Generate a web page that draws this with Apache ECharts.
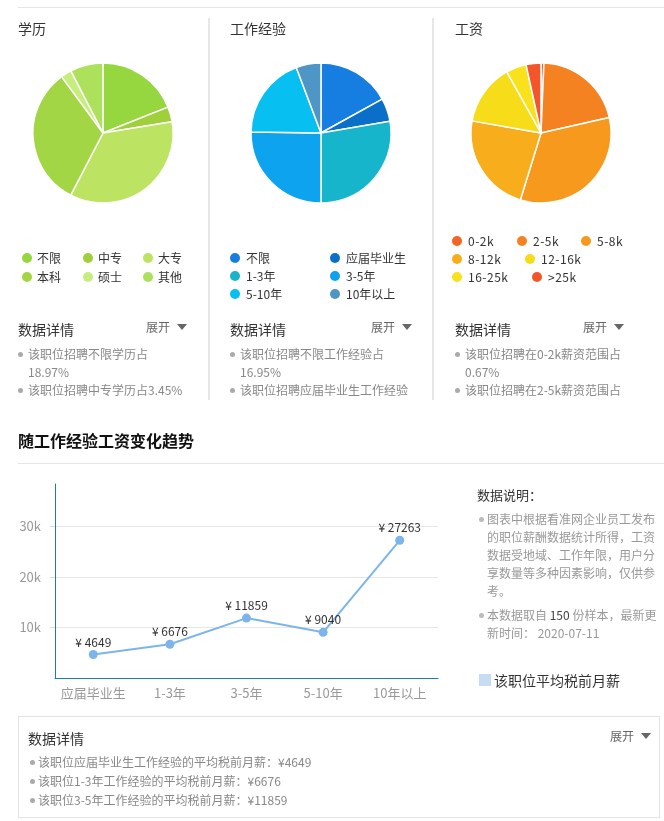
<!DOCTYPE html>
<html><head><meta charset="utf-8">
<script src="https://cdn.jsdelivr.net/npm/echarts@6/dist/echarts.min.js"></script>
<style>
html,body{margin:0;padding:0;background:#fff;}
body{width:664px;height:821px;position:relative;overflow:hidden;font-family:"Noto Sans CJK SC","Microsoft YaHei",sans-serif;}
#chart{position:absolute;left:0;top:0;width:664px;height:821px;z-index:1;}
.t{position:absolute;white-space:nowrap;line-height:18px;height:18px;z-index:2;font-size:12px;color:#888;}
.b{position:absolute;z-index:2;}
</style></head><body>
<div id="chart"></div>
<script>
// ---- data ----
const eduNames = ['不限','中专','大专','本科','硕士','其他'];
const eduValues = [18.97, 3.45, 35.2, 32.3, 2.5, 7.58];
const expNames = ['不限','应届毕业生','1-3年','3-5年','5-10年','10年以上'];
const expValues = [16.95, 5.35, 27.7, 25.2, 19.05, 5.75];
const salNames = ['0-2k','2-5k','5-8k','8-12k','12-16k','16-25k','>25k'];
const salValues = [0.67, 20.8, 33.3, 23.0, 14.1, 4.7, 3.43];
const trendCats = ['应届毕业生','1-3年','3-5年','5-10年','10年以上'];
const trendValues = [4649, 6676, 11859, 9040, 27263];
const yTicks = [0, 10000, 20000, 30000];

// ---- styles ----
const eduColors = ['#96d63e','#a0cf3c','#bce362','#a3d644','#c6ee7c','#ade15c'];
const expColors = ['#167ee0','#0a6fc8','#17b5cb','#0ea3ee','#07bff0','#4e96c5'];
const salColors = ['#f26522','#f58220','#f6991d','#f8ad1d','#f7dc1a','#f9e11b','#f4562a'];

function T(x, cy, text, css, html){
  const d = document.createElement('div'); d.className = 't';
  d.style.left = x + 'px'; d.style.top = (cy - 9) + 'px';
  if (html) d.innerHTML = text; else d.textContent = text;
  if (css) d.style.cssText += css;
  document.body.appendChild(d); return d;
}
function B(x, y, w, h, css){
  const d = document.createElement('div'); d.className = 'b';
  d.style.left = x + 'px'; d.style.top = y + 'px'; d.style.width = w + 'px'; d.style.height = h + 'px';
  if (css) d.style.cssText += css;
  document.body.appendChild(d); return d;
}
function dot(cx, cy, r, color){ return B(cx - r, cy - r, 2*r, 2*r, 'border-radius:50%;background:' + color); }
function tri(cx, cy){ return B(cx - 5, cy - 3, 0, 0, 'border-left:5px solid transparent;border-right:5px solid transparent;border-top:6px solid #666;'); }

// lines & separators
B(18, 7, 646, 1, 'background:#e6e6e6');
B(208, 18, 2, 382, 'background:#e6e6e6');
B(432, 18, 2, 382, 'background:#e6e6e6');
B(18, 463, 646, 1, 'background:#e6e6e6');
B(18, 716, 641, 101, 'border:1px solid #e3e3e3;box-sizing:border-box;width:642px;height:102px;');

// titles
T(18, 28, '学历', 'font-size:14px;color:#333');
T(230, 28, '工作经验', 'font-size:14px;color:#333');
T(455, 28, '工资', 'font-size:14px;color:#333');

// legends
const legCss = 'font-size:12px;color:#333';
const eduPos = [[27,258],[88,258],[148,258],[27,277],[88,277],[148,277]];
eduNames.forEach((n,i)=>{ dot(eduPos[i][0], eduPos[i][1], 5, eduColors[i]); T(eduPos[i][0]+10, eduPos[i][1], n, legCss); });
const expPos = [[235,258],[335,258],[235,276],[335,276],[235,294],[335,294]];
expNames.forEach((n,i)=>{ dot(expPos[i][0], expPos[i][1], 5, expColors[i]); T(expPos[i][0]+11, expPos[i][1], n, legCss); });
const salPos = [[457,241],[522,241],[586,241],[457,259],[530,259],[457,277],[537,277]];
salNames.forEach((n,i)=>{ dot(salPos[i][0], salPos[i][1], 5, salColors[i]); T(salPos[i][0]+11, salPos[i][1], n, legCss + ';letter-spacing:0.5px'); });

// detail blocks
function detail(x0, trX, lines){
  T(x0, 329, '数据详情', 'font-size:14px;color:#333');
  T(trX - 36, 327, '展开', 'font-size:12px;color:#666');
  tri(trX, 327);
  lines.forEach(l => { if (l.dot) dot(l.dx, l.y, 2.5, '#aaa'); T(l.tx, l.y, l.text); });
}
detail(18, 182, [
  {dot:true, dx:20, tx:28, y:354, text:'该职位招聘' + eduNames[0] + '学历占'},
  {dot:false, tx:28, y:372, text:eduValues[0].toFixed(2) + '%'},
  {dot:true, dx:20, tx:28, y:390, text:'该职位招聘' + eduNames[1] + '学历占' + eduValues[1].toFixed(2) + '%'}
]);
detail(230, 407, [
  {dot:true, dx:232, tx:240, y:354, text:'该职位招聘' + expNames[0] + '工作经验占'},
  {dot:false, tx:240, y:372, text:expValues[0].toFixed(2) + '%'},
  {dot:true, dx:232, tx:240, y:390, text:'该职位招聘' + expNames[1] + '工作经验'}
]);
detail(455, 619, [
  {dot:true, dx:457, tx:465, y:354, text:'该职位招聘在' + salNames[0] + '薪资范围占'},
  {dot:false, tx:465, y:372, text:salValues[0].toFixed(2) + '%'},
  {dot:true, dx:457, tx:465, y:390, text:'该职位招聘在' + salNames[1] + '薪资范围占'}
]);

// section 2 title
T(18, 440, '随工作经验工资变化趋势', 'font-size:16px;font-weight:bold;color:#111;line-height:22px;height:22px;top:429px');

// right notes
T(477, 495, '数据说明：', 'font-size:13px;color:#333');
const noteCss = 'font-size:12px;color:#999';
dot(481, 519, 2.5, '#bbb');
[['图表中根据看准网企业员工发布',519],['的职位薪酬数据统计所得，工资',537],['数据受地域、工作年限，用户分',555],['享数量等多种因素影响，仅供参',573],['考。',591]]
  .forEach(a => T(487, a[1], a[0], noteCss));
dot(481, 615, 2.5, '#bbb');
T(487, 615, '本数据取自 <span style="color:#444">150</span> 份样本，最新更', noteCss, true);
T(487, 633, '新时间： 2020-07-11', noteCss);
B(479, 674, 12, 12, 'background:#c5dcf2');
T(494, 680, '该职位平均税前月薪', 'font-size:14px;color:#333');

// bottom detail
T(28, 738, '数据详情', 'font-size:14px;color:#333');
T(610, 736, '展开', 'font-size:12px;color:#666');
tri(646, 736);
[0,1,2].forEach((i,k) => {
  const y = 762 + k*19;
  dot(32, y, 2.5, '#aaa');
  T(38, y, '该职位' + trendCats[i] + '工作经验的平均税前月薪：¥' + trendValues[i]);
});

// ---- charts ----
const chart = echarts.init(document.getElementById('chart'), null, {renderer:'canvas'});
function pie(names, values, colors, cx){
  return {
    type:'pie', center:[cx,133], radius:70, startAngle:90, clockwise:true,
    label:{show:false}, labelLine:{show:false}, silent:true, animation:false,
    itemStyle:{borderColor:'#fff', borderWidth:1.5},
    data:names.map((n,i)=>({name:n, value:values[i], itemStyle:{color:colors[i]}}))
  };
}
const axisBlue = '#1f7ab3';
chart.setOption({
  animation:false,
  grid:{left:55, right:226, top:484, bottom:143, containLabel:false},
  xAxis:{type:'category', data:trendCats, boundaryGap:true,
    axisLine:{lineStyle:{color:axisBlue, width:1}},
    axisTick:{alignWithLabel:true, interval:0, length:5, lineStyle:{color:axisBlue}},
    axisLabel:{color:'#999', fontSize:13, margin:9, interval:0, hideOverlap:false, fontFamily:'Noto Sans CJK SC'}},
  yAxis:{type:'value', min:0, max:38400, interval:10000,
    axisLine:{show:true, lineStyle:{color:axisBlue}},
    axisTick:{show:true, length:5, lineStyle:{color:'#ddd'}},
    axisLabel:{color:'#999', fontSize:13, margin:14, showMinLabel:false, showMaxLabel:false,
      fontFamily:'Noto Sans CJK SC',
      formatter:v => yTicks.includes(v) && v > 0 ? (v/1000) + 'k' : ''},
    splitLine:{show:true, showMinLine:false, showMaxLine:false, lineStyle:{color:'#e6e6e6'}}},
  series:[
    pie(eduNames, eduValues, eduColors, 103),
    pie(expNames, expValues, expColors, 321),
    pie(salNames, salValues, salColors, 541),
    {type:'line', data:trendValues, symbol:'circle', symbolSize:9, silent:true,
      lineStyle:{color:'#7cb5ec', width:2}, itemStyle:{color:'#7cb5ec'},
      label:{show:true, position:'top', distance:2, color:'#333', fontSize:12,
        fontFamily:'Noto Sans CJK SC', formatter:p => '¥ ' + p.value}}
  ]
});
</script>
</body></html>
